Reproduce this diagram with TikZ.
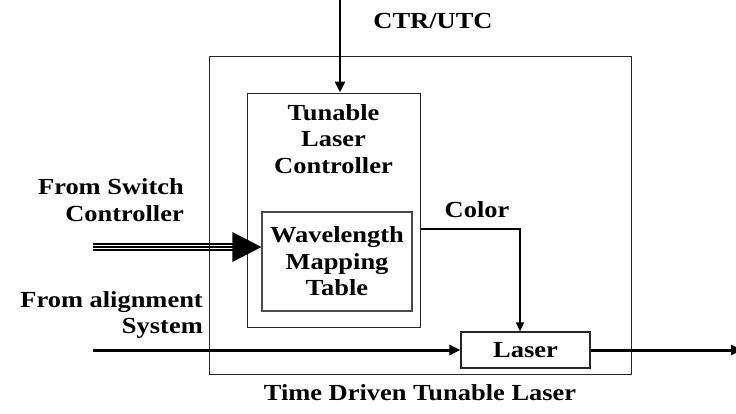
\documentclass[tikz,border=0pt]{standalone}
\usepackage{fontspec}
\setmainfont[FakeStretch=1.15]{Liberation Serif}
\usetikzlibrary{arrows.meta,calc}
\begin{document}
\begin{tikzpicture}[x=1pt,y=-1pt,
  lbl/.style={font=\fontsize{23}{26.5}\selectfont\bfseries, inner sep=0pt},
  frame/.style={draw=black!85, line width=1pt, inner sep=0pt},
  thick arrow/.style={line width=3pt, -{Triangle[length=11pt,width=10pt]}},
]
\useasboundingbox (0,0) rectangle (736,413);

% boxes
\node[frame, minimum width=422pt, minimum height=318pt] (outer) at (420,215) {};
\node[frame, minimum width=173pt, minimum height=234pt] (ctrl) at (333.5,210) {};
\node[lbl, align=center] (ctrltext) at (333.5,139) {Tunable\\Laser\\Controller};
\node[frame, draw=black!70, line width=1.3pt, minimum width=150pt, minimum height=99pt,
      lbl, align=center] (wmt) at (337,261.5) {Wavelength\\Mapping\\Table};
\node[frame, line width=1.2pt, minimum width=129pt, minimum height=36pt, lbl] (laser) at (525.5,350) {Laser};

% labels
\node[lbl] (ctrlbl) at (433,21) {CTR/UTC};
\node[lbl, align=right, anchor=east] (swlbl) at (184,200) {From Switch\\Controller};
\node[lbl, align=right, anchor=east] (allbl) at (203,315) {From alignment\\System};
\node[lbl] (colorlbl) at (477,210) {Color};
\node[lbl] (title) at (420,393) {Time Driven Tunable Laser};

% connector end points
\coordinate (ctrtop) at (340,0);
\coordinate (swstart) at (93,247);
\coordinate (colorturn) at (520,229);
\coordinate (alstart) at (93,350);
\coordinate (outend) at (742,350);

% CTR/UTC input
\draw[line width=2.8pt, -{Triangle[length=11pt,width=10pt]}] (ctrtop) -- (ctrtop |- ctrl.north);

% triple-line bus from the switch controller
\foreach \dy in {-3,0,3}
  \draw[line width=1.2pt] ($(swstart)+(0,\dy)$) -- ($(swstart -| wmt.west)+(-28,\dy)$);
\fill ($(swstart -| wmt.west)$) -- ++(-29,-15) -- ++(0,30) -- cycle;

% colour selection
\draw[line width=1.5pt, -{Triangle[length=9pt,width=8pt]}]
  (colorturn -| ctrl.east) -- (colorturn) -- (colorturn |- laser.north);

% alignment input and laser output
\draw[thick arrow] (alstart) -- (laser.west);
\draw[thick arrow] (laser.east) -- (outend);
\end{tikzpicture}
\end{document}
